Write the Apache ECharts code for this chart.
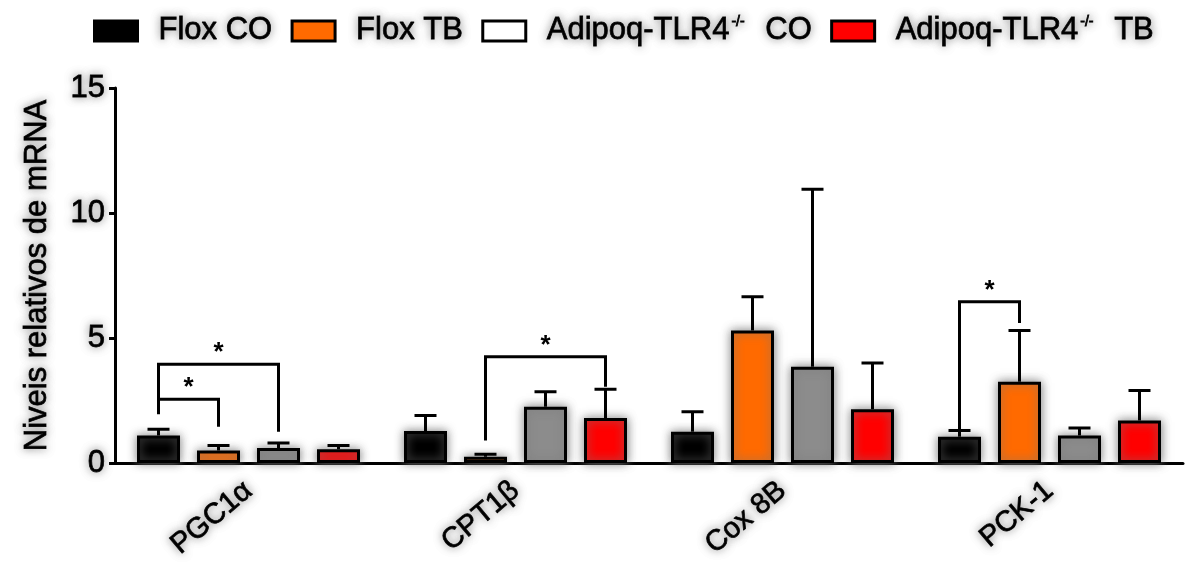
<!DOCTYPE html>
<html>
<head>
<meta charset="utf-8">
<script src="https://cdn.jsdelivr.net/npm/echarts@6/dist/echarts.min.js"></script>
<style>
  html, body { margin: 0; padding: 0; background: #fff; }
  #chart { width: 1187px; height: 569px; }
</style>
</head>
<body>
<div id="chart"></div>
<script>
const genes = ['PGC1α', 'CPT1β', 'Cox 8B', 'PCK-1']
const groups = ['Flox CO', 'Flox TB', 'Adipoq-TLR4-/- CO', 'Adipoq-TLR4-/- TB']

// média e limite superior do erro, por grupo
const floxCO = [1.1, 1.28, 1.25, 1.05]
const floxCOErr = [1.35, 1.9, 2.05, 1.3]
const floxTB = [0.5, 0.25, 5.3, 3.25]
const floxTBErr = [0.7, 0.35, 6.65, 5.3]
const tlrCO = [0.6, 2.25, 3.85, 1.1]
const tlrCOErr = [0.8, 2.85, 10.95, 1.4]
const tlrTB = [0.55, 1.8, 2.15, 1.7]
const tlrTBErr = [0.7, 2.95, 4.0, 2.9]

// [gene, barA, barB, nível, perna A, perna B]
const brackets = [
  [0, 0, 2, 3.95, 2.0, 1.25],
  [0, 0, 1, 2.55, 1.95, 1.45],
  [1, 1, 3, 4.25, 0.9, 3.05],
  [3, 0, 1, 6.45, 1.25, 5.6]
]

const means = [floxCO, floxTB, tlrCO, tlrTB]
const uppers = [floxCOErr, floxTBErr, tlrCOErr, tlrTBErr]
const colors = ['#000000', '#ff6a00', '#8c8c8c', '#ff0000']

const BAR_W = 43
const GAP = 17
const offset = i => (i - 1.5) * (BAR_W + GAP)
const halo = { shadowColor: 'rgba(120,120,120,0.9)', shadowBlur: 10 }
const font = 'Liberation Sans, Arial, sans-serif'
const textHalo = {
  textBorderColor: '#000', textBorderWidth: 0.8,
  textShadowColor: 'rgba(120,120,120,0.8)', textShadowBlur: 8
}

const chart = echarts.init(document.getElementById('chart'))

const barSeries = groups.map((g, i) => ({
  name: g,
  type: 'bar',
  barWidth: BAR_W,
  barGap: (GAP / BAR_W * 100) + '%',
  data: means[i],
  itemStyle: Object.assign({ color: colors[i], borderColor: '#000', borderWidth: 3 }, halo),
  z: 2
}))

const errData = []
means.forEach((m, s) => m.forEach((v, c) => errData.push([c, s, v, uppers[s][c]])))

const errSeries = {
  type: 'custom',
  z: 5,
  silent: true,
  data: errData,
  encode: { x: 0, y: 3 },
  renderItem: (params, api) => {
    const c = api.value(0)
    const s = api.value(1)
    const top = api.coord([c, api.value(3)])
    const base = api.coord([c, api.value(2)])
    const x = top[0] + offset(s)
    const st = { stroke: '#000', lineWidth: 3 }
    return {
      type: 'group',
      children: [
        { type: 'line', shape: { x1: x, y1: base[1], x2: x, y2: top[1] }, style: st },
        { type: 'line', shape: { x1: x - 11, y1: top[1], x2: x + 11, y2: top[1] }, style: st }
      ]
    }
  }
}

const bracketSeries = {
  type: 'custom',
  z: 6,
  silent: true,
  data: brackets,
  encode: { x: 0, y: 3 },
  renderItem: (params, api) => {
    const c = api.value(0)
    const lvl = api.coord([c, api.value(3)])
    const la = api.coord([c, api.value(4)])
    const lb = api.coord([c, api.value(5)])
    const xa = lvl[0] + offset(api.value(1))
    const xb = lvl[0] + offset(api.value(2))
    const st = { stroke: '#000', lineWidth: 3, fill: null }
    return {
      type: 'group',
      children: [
        { type: 'polyline', shape: { points: [[xa, la[1]], [xa, lvl[1]], [xb, lvl[1]], [xb, lb[1]]] }, style: st },
        { type: 'text', x: (xa + xb) / 2, y: lvl[1] + 2,
          style: { text: '*', font: 'bold 26px ' + font, fill: '#000', align: 'center', verticalAlign: 'bottom' } }
      ]
    }
  }
}

const option = {
  animation: false,
  backgroundColor: '#fff',
  grid: { left: 115, right: 4, top: 88, bottom: 106 },
  legend: {
    left: 88,
    top: 10,
    itemWidth: 43,
    itemHeight: 20,
    itemGap: 18,
    icon: 'rect',
    data: groups.map((g, i) => ({
      name: g,
      itemStyle: { color: i === 2 ? '#fff' : colors[i], borderColor: '#000', borderWidth: 3 }
    })),
    formatter: n => n.replace('-/-', '{sup|-/-}'),
    textStyle: Object.assign({
      fontFamily: font, fontSize: 31, color: '#000',
      padding: [0, 0, 0, 16],
      rich: { sup: { fontSize: 14, verticalAlign: 'top', padding: [0, 12, 16, 2] } }
    }, textHalo)
  },
  xAxis: {
    type: 'category',
    data: genes,
    axisLine: { lineStyle: { color: '#000', width: 3 } },
    axisTick: { alignWithLabel: true, length: 9, lineStyle: { color: '#000', width: 3 } },
    axisLabel: Object.assign({
      rotate: 40, margin: 24, fontFamily: font, fontSize: 29, color: '#000'
    }, textHalo)
  },
  yAxis: {
    type: 'value',
    min: 0,
    max: 15,
    interval: 5,
    name: 'Niveis relativos de mRNA',
    nameLocation: 'middle',
    nameGap: 62,
    nameTextStyle: Object.assign({ fontFamily: font, fontSize: 31, color: '#000' }, textHalo),
    axisLine: { show: true, lineStyle: { color: '#000', width: 3 } },
    axisTick: { show: true, length: 6, lineStyle: { color: '#000', width: 3 } },
    axisLabel: Object.assign({ fontFamily: font, fontSize: 31, color: '#000', margin: 10 }, textHalo),
    splitLine: { show: false }
  },
  series: [...barSeries, errSeries, bracketSeries]
}

chart.setOption(option)
</script>
</body>
</html>
